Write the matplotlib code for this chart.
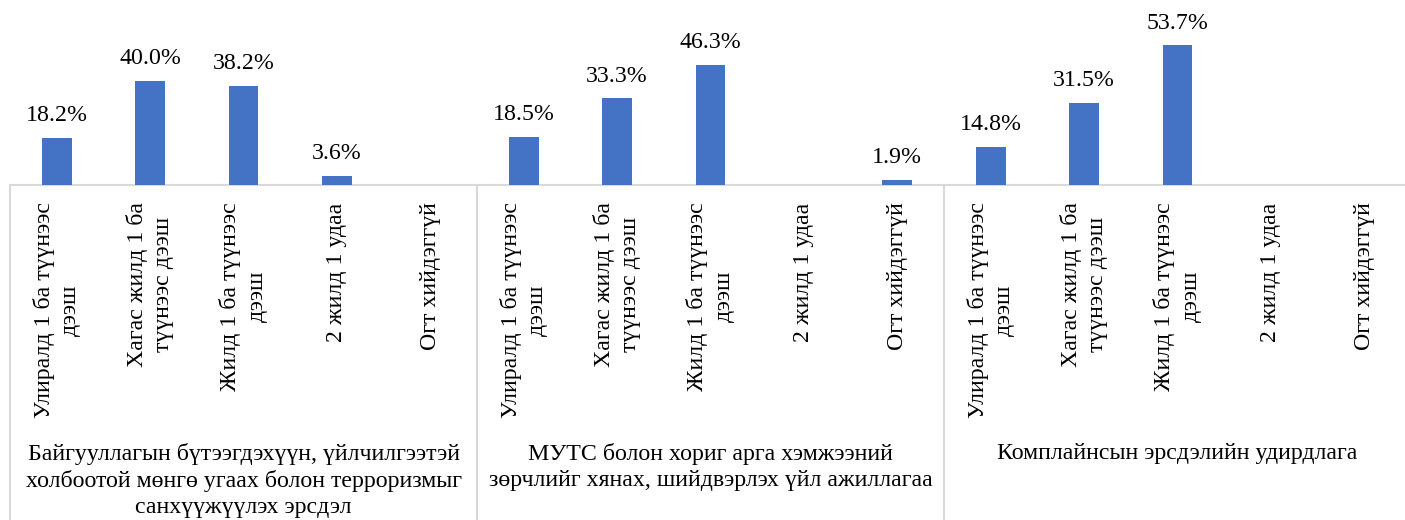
import matplotlib.pyplot as plt

plt.rcParams['font.family'] = ['Liberation Serif', 'DejaVu Serif']

categories = [
    "Улиралд 1 ба түүнээс\nдээш",
    "Хагас жилд 1 ба\nтүүнээс дээш",
    "Жилд 1 ба түүнээс\nдээш",
    "2 жилд 1 удаа",
    "Огт хийдэггүй",
]
groups = [
    "Байгууллагын бүтээгдэхүүн, үйлчилгээтэй\nхолбоотой мөнгө угаах болон терроризмыг\nсанхүүжүүлэх эрсдэл",
    "МУТС болон хориг арга хэмжээний\nзөрчлийг хянах, шийдвэрлэх үйл ажиллагаа",
    "Комплайнсын эрсдэлийн удирдлага",
]
values = [
    [18.2, 40.0, 38.2, 3.6, 0.0],
    [18.5, 33.3, 46.3, 0.0, 1.9],
    [14.8, 31.5, 53.7, 0.0, 0.0],
]

blue = '#4472C4'
grid = '#d9d9d9'
fs = 17.2

fig = plt.figure(figsize=(14.05, 5.2), dpi=100)
W, H = 1405, 520
ax = fig.add_axes([10 / W, (H - 185) / H, 1401 / W, 185 / H])

n = len(categories)
for g, vals in enumerate(values):
    xs = [g * n + i for i in range(n)]
    ax.bar(xs, vals, width=0.32, color=blue, zorder=2)
    for x, v, cat in zip(xs, vals, categories):
        if v > 0:
            ax.annotate(f"{v:.1f}%", (x, v), xytext=(0, 8.5), textcoords='offset points',
                        ha='center', va='bottom', fontsize=fs)
        ax.annotate(cat, (x, 0), xytext=(0, -12.5), textcoords='offset points',
                    rotation=90, ha='center', va='top', multialignment='center',
                    fontsize=fs, linespacing=1.33, annotation_clip=False)
    ax.annotate(groups[g], ((g + 0.5) * n - 0.5, 0), xytext=(0, -186), textcoords='offset points',
                ha='center', va='top', multialignment='center', fontsize=fs,
                linespacing=1.3, annotation_clip=False)

ax.set_xlim(-0.5, len(values) * n - 0.5)
ax.set_ylim(0, 71.2)
ax.axis('off')

# baseline and group separators
ax.plot([-0.5, len(values) * n - 0.5], [0, 0], color=grid, lw=1.5, clip_on=False, zorder=1)
for g in range(len(values) + 1):
    ax.plot([g * n - 0.5, g * n - 0.5], [0, -335 / 185], color=grid, lw=1.5,
            transform=ax.get_xaxis_transform(), clip_on=False)

fig.savefig('out.png', dpi=100)
